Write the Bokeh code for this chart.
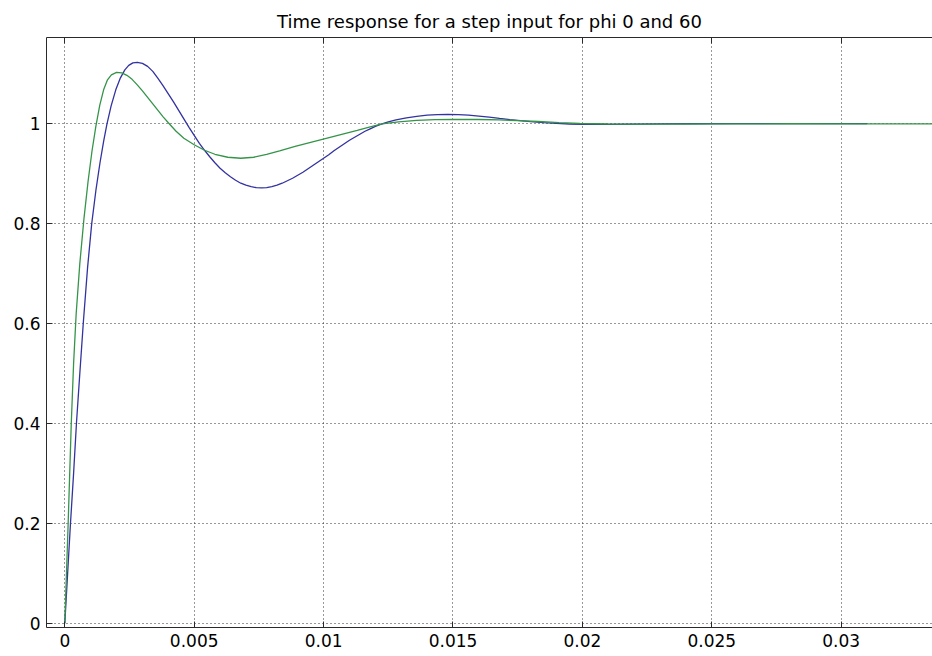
from bokeh.plotting import figure
from bokeh.models import Range1d, FixedTicker, LinearAxis
from bokeh.embed import file_html
from bokeh.resources import INLINE

title_text = "Time response for a step input for phi 0 and 60"

x_ticks = [0, 0.005, 0.01, 0.015, 0.02, 0.025, 0.03]
x_tick_labels = ["0", "0.005", "0.01", "0.015", "0.02", "0.025", "0.03"]
y_ticks = [0, 0.2, 0.4, 0.6, 0.8, 1]
y_tick_labels = ["0", "0.2", "0.4", "0.6", "0.8", "1"]

# phi = 0 response (blue)
blue_t = [0, 0.00011, 0.00022, 0.00034, 0.00045, 0.00058, 0.00072, 0.00088, 0.00104,
          0.0012, 0.00136, 0.0015, 0.00163, 0.00179, 0.00197, 0.00215, 0.00232, 0.00247,
          0.00263, 0.0028, 0.003, 0.0032, 0.0034, 0.0036, 0.0038, 0.004, 0.0042, 0.0044,
          0.0046, 0.0048, 0.005, 0.0052, 0.0054, 0.0056, 0.0058, 0.006, 0.0062, 0.0064,
          0.0066, 0.0068, 0.007, 0.0072, 0.0074, 0.0076, 0.0078, 0.008, 0.0082, 0.0084,
          0.0086, 0.0088, 0.009, 0.0092, 0.0094, 0.0096, 0.0098, 0.01, 0.0102, 0.0104,
          0.0106, 0.0108, 0.011, 0.0112, 0.0114, 0.0116, 0.0118, 0.012, 0.0122, 0.0125,
          0.0128, 0.0132, 0.0136, 0.014, 0.0144, 0.0148, 0.0152, 0.0156, 0.016, 0.0164,
          0.0168, 0.0172, 0.0176, 0.018, 0.0185, 0.019, 0.0195, 0.02, 0.021, 0.022,
          0.023, 0.024, 0.026, 0.028, 0.031]
blue_y = [0, 0.1, 0.2, 0.3, 0.4, 0.5, 0.605, 0.712, 0.8,
          0.866, 0.922, 0.965, 1.0, 1.036, 1.068, 1.092, 1.108, 1.117,
          1.122, 1.123, 1.121, 1.115, 1.105, 1.091, 1.076, 1.06, 1.044, 1.027,
          1.01, 0.993, 0.977, 0.961, 0.947, 0.934, 0.922, 0.911, 0.902, 0.894,
          0.887, 0.881, 0.877, 0.874, 0.872, 0.8715, 0.872, 0.874, 0.877, 0.881,
          0.886, 0.891, 0.897, 0.903, 0.91, 0.917, 0.924, 0.931, 0.938, 0.946,
          0.953, 0.96, 0.967, 0.973, 0.979, 0.985, 0.99, 0.995, 0.999, 1.004,
          1.008, 1.012, 1.015, 1.0172, 1.0183, 1.0186, 1.0183, 1.0172, 1.0155, 1.0133,
          1.0108, 1.0084, 1.0062, 1.0042, 1.0022, 1.0007, 0.9996, 0.999, 0.9988, 0.9992,
          0.9997, 1.0001, 1.0005, 1.0005, 1.0002]

# phi = 60 response (green)
green_t = [0, 0.00013, 0.00025, 0.00034, 0.00044, 0.00058, 0.00074, 0.0009, 0.00105,
           0.0012, 0.00135, 0.0015, 0.00165, 0.0018, 0.002, 0.0022, 0.0024, 0.0026,
           0.0028, 0.003, 0.0032, 0.0034, 0.0036, 0.0038, 0.004, 0.0043, 0.0046, 0.005,
           0.0054, 0.0058, 0.0063, 0.0068, 0.0073, 0.0078, 0.0083, 0.0089, 0.0095, 0.0101,
           0.0107, 0.0113, 0.0118, 0.01226, 0.0129, 0.0136, 0.0143, 0.015, 0.016, 0.0168,
           0.0175, 0.0183, 0.0191, 0.0199, 0.021, 0.0225, 0.025, 0.028, 0.031, 0.0336]
green_y = [0, 0.2, 0.4, 0.52, 0.62, 0.72, 0.81, 0.885, 0.945,
           0.995, 1.037, 1.068, 1.088, 1.098, 1.103, 1.102, 1.097, 1.089,
           1.078, 1.066, 1.053, 1.04, 1.027, 1.014, 1.002, 0.985, 0.971, 0.958,
           0.947, 0.939, 0.933, 0.931, 0.933, 0.939, 0.946, 0.955, 0.963, 0.971,
           0.979, 0.987, 0.994, 1.0, 1.004, 1.0068, 1.0082, 1.0088, 1.0086, 1.0078,
           1.0064, 1.0046, 1.0024, 1.0006, 0.9996, 0.9994, 0.9999, 1.0001, 1.0, 1.0]

FONT = "DejaVu Sans"
AXIS_COLOR = "#2a2a2a"

p = figure(width=932, height=656, output_backend="svg", toolbar_location=None,
           x_range=Range1d(-0.000707, 0.033528), y_range=Range1d(-0.0086, 1.1728),
           min_border_left=46, min_border_right=0, min_border_top=37, min_border_bottom=29,
           title=title_text)
p.title.align = "center"
p.title.text_font = FONT
p.title.text_font_size = "18px"
p.title.text_font_style = "normal"
p.title.text_color = "#000000"
p.title.standoff = 12
p.outline_line_color = None
p.background_fill_color = "white"
p.border_fill_color = "white"

p.line(blue_t, blue_y, line_color="#3232a0", line_width=1.3)
p.line(green_t, green_y, line_color="#349448", line_width=1.3)

for ax, ticks, labels in ((p.xaxis[0], x_ticks, x_tick_labels), (p.yaxis[0], y_ticks, y_tick_labels)):
    ax.ticker = FixedTicker(ticks=ticks)
    ax.major_label_overrides = {t: l for t, l in zip(ticks, labels)}
    ax.minor_tick_line_color = None
    ax.major_tick_in = 6
    ax.major_tick_out = 0
    ax.major_label_standoff = 6
    ax.major_label_text_font = FONT
    ax.major_label_text_font_size = "17px"
    ax.major_label_text_color = "#000000"
    ax.axis_line_color = AXIS_COLOR
    ax.major_tick_line_color = AXIS_COLOR

top = LinearAxis(ticker=FixedTicker(ticks=x_ticks))
top.major_label_overrides = {t: "" for t in x_ticks}
top.minor_tick_line_color = None
top.major_tick_in = 6
top.major_tick_out = 0
top.major_label_text_font_size = "1px"
top.major_label_standoff = 0
top.axis_line_color = AXIS_COLOR
top.major_tick_line_color = AXIS_COLOR
p.add_layout(top, "above")

for g in (p.xgrid[0], p.ygrid[0]):
    g.grid_line_color = "#303030"
    g.grid_line_dash = "1 3"
    g.grid_line_width = 1
p.xgrid[0].ticker = FixedTicker(ticks=x_ticks)
p.ygrid[0].ticker = FixedTicker(ticks=y_ticks)

open("out.html", "w").write(file_html(p, INLINE))
